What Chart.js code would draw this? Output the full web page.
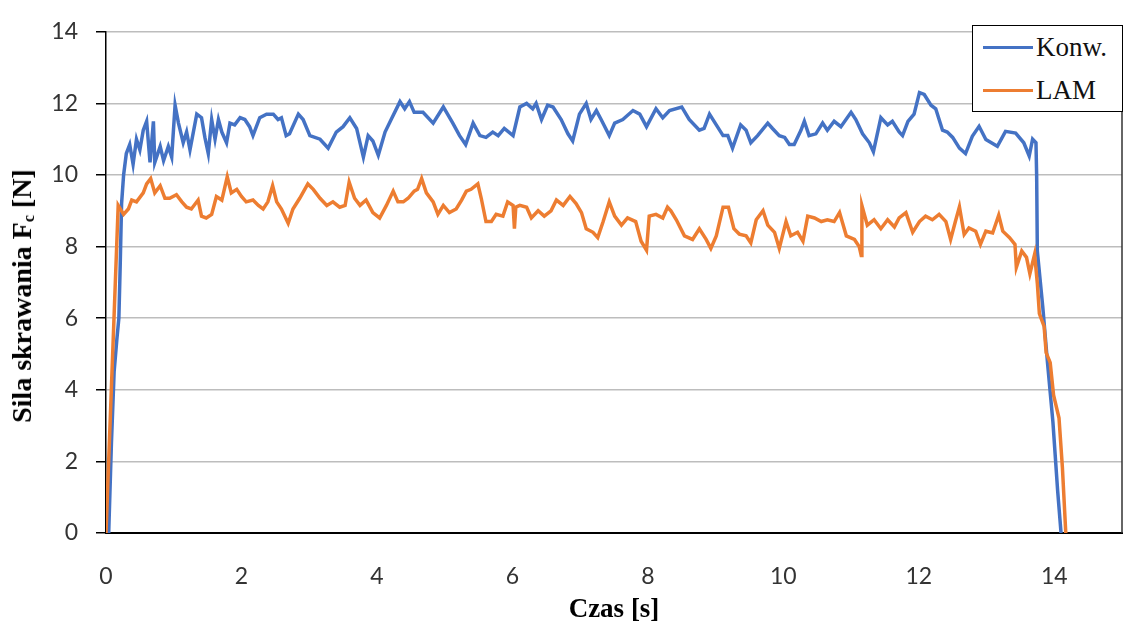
<!DOCTYPE html>
<html>
<head>
<meta charset="utf-8">
<script src="https://cdn.jsdelivr.net/npm/chart.js@4.4.1/dist/chart.umd.min.js"></script>
<style>
    body { margin: 0; background: #fff; }
    #wrap { position: relative; width: 1125px; height: 626px; }
    #ytitle {
        position: absolute; left: 22px; top: 296px;
        transform: translate(-50%, -50%) rotate(-90deg);
        white-space: nowrap;
        font: bold 28px "Liberation Serif", "Times New Roman", serif;
        color: #000;
    }
    #ytitle sub { font-size: 16px; vertical-align: -3px; }
    #legenda {
        position: absolute; left: 972px; top: 25px; width: 149px; height: 85px;
        border: 1.5px solid #000; background: #fff;
        font: 27px "Liberation Serif", "Times New Roman", serif; color: #111;
    }
    .item { position: absolute; left: 10px; display: flex; align-items: center; }
    .item span.linha { display: inline-block; width: 50px; height: 3px; margin-right: 3px; }
</style>
</head>
<body>
<div id="wrap">
    <canvas id="grafico" width="1125" height="626"></canvas>
    <div id="ytitle">Sila skrawania F<sub>c</sub> [N]</div>
    <div id="legenda">
        <div class="item" style="top:6px"><span class="linha" style="background:#4472C4"></span>Konw.</div>
        <div class="item" style="top:49px"><span class="linha" style="background:#ED7D31"></span>LAM</div>
    </div>
</div>
<script>
// Siła skrawania - Konw. vs LAM

const xTicks = [0, 2, 4, 6, 8, 10, 12, 14];
const yTicks = [0, 2, 4, 6, 8, 10, 12, 14];

// Konw. (niebieski)
const czasKonw = [
    0.04, 0.08, 0.12, 0.16, 0.19, 0.21, 0.23, 0.26, 0.30, 0.35,
    0.40, 0.45, 0.50, 0.55, 0.60, 0.65, 0.70, 0.72, 0.80, 0.85,
    0.92, 0.97, 1.02, 1.07, 1.14, 1.19, 1.24, 1.34, 1.41, 1.46,
    1.51, 1.56, 1.61, 1.66, 1.71, 1.78, 1.83, 1.90, 1.98, 2.05,
    2.12, 2.17, 2.27, 2.37, 2.47, 2.54, 2.59, 2.66, 2.71, 2.84,
    2.91, 3.01, 3.16, 3.28, 3.40, 3.50, 3.60, 3.70, 3.80, 3.87,
    3.94, 4.02, 4.12, 4.21, 4.34, 4.41, 4.48, 4.55, 4.68, 4.83,
    4.98, 5.12, 5.22, 5.31, 5.42, 5.52, 5.61, 5.71, 5.79, 5.88,
    6.01, 6.11, 6.21, 6.30, 6.35, 6.43, 6.52, 6.60, 6.72, 6.82,
    6.89, 6.99, 7.09, 7.16, 7.24, 7.31, 7.43, 7.51, 7.63, 7.78,
    7.88, 7.98, 8.12, 8.22, 8.32, 8.50, 8.61, 8.76, 8.83, 8.91,
    9.01, 9.11, 9.18, 9.25, 9.37, 9.45, 9.52, 9.62, 9.77, 9.84,
    9.94, 10.02, 10.09, 10.16, 10.26, 10.31, 10.38, 10.48, 10.58, 10.65,
    10.75, 10.85, 11.00, 11.07, 11.17, 11.27, 11.33, 11.44, 11.54, 11.61,
    11.71, 11.76, 11.84, 11.93, 12.01, 12.08, 12.18, 12.25, 12.35, 12.42,
    12.50, 12.60, 12.69, 12.79, 12.89, 12.99, 13.16, 13.28, 13.43, 13.55,
    13.63, 13.68, 13.73, 13.74, 13.75, 13.83, 13.90, 13.98, 14.05, 14.10
];
const silaKonw = [
    0, 2.5, 4.5, 5.4, 6.0, 7.5, 9.2, 10.0, 10.6, 10.85,
    10.3, 11.0, 10.7, 11.25, 11.5, 10.35, 11.5, 10.35, 10.8, 10.4,
    10.8, 10.5, 11.95, 11.45, 10.9, 11.2, 10.7, 11.7, 11.6, 11.05,
    10.6, 11.55, 11.0, 11.55, 11.2, 10.9, 11.45, 11.4, 11.6, 11.55,
    11.35, 11.1, 11.6, 11.7, 11.7, 11.55, 11.6, 11.1, 11.15, 11.7,
    11.55, 11.1, 11.0, 10.75, 11.2, 11.35, 11.6, 11.3, 10.5, 11.1,
    10.95, 10.55, 11.2, 11.55, 12.05, 11.85, 12.05, 11.75, 11.75, 11.45,
    11.9, 11.45, 11.1, 10.85, 11.45, 11.1, 11.05, 11.2, 11.1, 11.3,
    11.1, 11.9, 12.0, 11.85, 12.0, 11.55, 11.95, 11.9, 11.55, 11.15,
    10.95, 11.7, 12.0, 11.55, 11.8, 11.55, 11.1, 11.45, 11.55, 11.8,
    11.7, 11.35, 11.85, 11.6, 11.8, 11.9, 11.55, 11.25, 11.3, 11.7,
    11.4, 11.1, 11.1, 10.75, 11.4, 11.25, 10.9, 11.1, 11.45, 11.3,
    11.1, 11.05, 10.85, 10.85, 11.25, 11.5, 11.1, 11.15, 11.45, 11.25,
    11.5, 11.35, 11.75, 11.55, 11.15, 10.9, 10.65, 11.6, 11.4, 11.5,
    11.2, 11.1, 11.5, 11.7, 12.3, 12.25, 11.95, 11.85, 11.25, 11.2,
    11.05, 10.75, 10.6, 11.08, 11.36, 10.99, 10.8, 11.22, 11.17, 10.9,
    10.53, 11.0, 10.9, 9.98, 7.87, 6.32, 4.76, 3.1, 1.18, 0
];

// LAM (pomarańczowy)
const czasLam = [
    0, 0.18, 0.26, 0.33, 0.38, 0.45, 0.55, 0.60, 0.66, 0.72,
    0.80, 0.87, 0.94, 1.04, 1.12, 1.19, 1.26, 1.36, 1.41, 1.48,
    1.56, 1.63, 1.71, 1.79, 1.85, 1.93, 2.00, 2.07, 2.17, 2.25,
    2.32, 2.39, 2.46, 2.52, 2.59, 2.69, 2.76, 2.86, 2.98, 3.06,
    3.16, 3.26, 3.35, 3.45, 3.53, 3.59, 3.67, 3.75, 3.84, 3.94,
    4.04, 4.14, 4.24, 4.31, 4.39, 4.46, 4.55, 4.60, 4.66, 4.73,
    4.83, 4.90, 4.98, 5.07, 5.17, 5.25, 5.32, 5.39, 5.49, 5.54,
    5.61, 5.69, 5.76, 5.86, 5.93, 6.01, 6.03, 6.05, 6.11, 6.21,
    6.28, 6.38, 6.47, 6.57, 6.65, 6.75, 6.85, 6.94, 7.02, 7.09,
    7.19, 7.26, 7.34, 7.43, 7.51, 7.61, 7.70, 7.82, 7.90, 7.98,
    8.02, 8.12, 8.22, 8.29, 8.34, 8.42, 8.54, 8.66, 8.76, 8.86,
    8.93, 9.01, 9.11, 9.19, 9.27, 9.35, 9.45, 9.52, 9.60, 9.70,
    9.77, 9.87, 9.94, 10.04, 10.11, 10.21, 10.29, 10.36, 10.46, 10.56,
    10.65, 10.75, 10.83, 10.93, 11.05, 11.12, 11.15, 11.16, 11.24, 11.34,
    11.44, 11.54, 11.64, 11.71, 11.81, 11.91, 12.01, 12.10, 12.20, 12.30,
    12.40, 12.47, 12.54, 12.60, 12.67, 12.74, 12.84, 12.91, 12.99, 13.09,
    13.18, 13.24, 13.34, 13.42, 13.44, 13.52, 13.59, 13.64, 13.71, 13.75,
    13.78, 13.85, 13.88, 13.94, 13.99, 14.07, 14.12, 14.17
];
const silaLam = [
    0, 9.15, 8.9, 9.05, 9.3, 9.25, 9.5, 9.75, 9.9, 9.5,
    9.7, 9.35, 9.35, 9.45, 9.25, 9.1, 9.05, 9.3, 8.85, 8.8,
    8.9, 9.4, 9.3, 9.95, 9.5, 9.6, 9.4, 9.25, 9.3, 9.15,
    9.05, 9.25, 9.7, 9.25, 9.05, 8.65, 9.05, 9.35, 9.75, 9.6,
    9.35, 9.15, 9.25, 9.1, 9.15, 9.8, 9.35, 9.15, 9.3, 8.95,
    8.8, 9.15, 9.55, 9.25, 9.25, 9.35, 9.55, 9.6, 9.9, 9.5,
    9.25, 8.9, 9.15, 8.95, 9.05, 9.3, 9.55, 9.6, 9.75, 9.35,
    8.7, 8.7, 8.9, 8.85, 9.25, 9.15, 8.5, 9.1, 9.15, 9.1,
    8.8, 9.0, 8.85, 9.0, 9.3, 9.15, 9.4, 9.2, 8.95, 8.5,
    8.4, 8.25, 8.7, 9.25, 8.85, 8.6, 8.8, 8.7, 8.15, 7.9,
    8.85, 8.9, 8.8, 9.1, 9.0, 8.75, 8.3, 8.2, 8.5, 8.2,
    7.95, 8.3, 9.1, 9.1, 8.5, 8.35, 8.3, 8.1, 8.75, 9.0,
    8.6, 8.4, 7.95, 8.7, 8.3, 8.4, 8.15, 8.85, 8.8, 8.7,
    8.75, 8.7, 8.95, 8.3, 8.2, 8.0, 7.75, 9.15, 8.6, 8.75,
    8.5, 8.75, 8.55, 8.8, 8.95, 8.4, 8.7, 8.85, 8.75, 8.9,
    8.7, 8.2, 8.7, 9.11, 8.34, 8.52, 8.43, 8.06, 8.43, 8.38,
    8.88, 8.43, 8.25, 8.06, 7.42, 7.88, 7.7, 7.24, 7.79, 6.97,
    6.13, 5.77, 5.04, 4.76, 3.85, 3.21, 1.83, 0
];

const serieKonw = czasKonw.map((t, i) => ({ x: t, y: silaKonw[i] }));
const serieLam = czasLam.map((t, i) => ({ x: t, y: silaLam[i] }));

// borda direita da área do gráfico
const bordaDireita = {
    id: 'bordaDireita',
    afterDraw(chart) {
        const { ctx, chartArea } = chart;
        ctx.save();
        ctx.strokeStyle = '#333';
        ctx.lineWidth = 1.5;
        ctx.beginPath();
        ctx.moveTo(chartArea.right, chartArea.top);
        ctx.lineTo(chartArea.right, chartArea.bottom);
        ctx.stroke();
        ctx.restore();
    }
};

const ctx = document.getElementById('grafico').getContext('2d');
new Chart(ctx, {
    type: 'line',
    data: {
        datasets: [
            {
                label: 'Konw.',
                data: serieKonw,
                borderColor: '#4472C4',
                borderWidth: 3.5,
                pointRadius: 0,
                tension: 0,
                order: 1
            },
            {
                label: 'LAM',
                data: serieLam,
                borderColor: '#ED7D31',
                borderWidth: 3.5,
                pointRadius: 0,
                tension: 0,
                order: 0
            }
        ]
    },
    options: {
        responsive: false,
        animation: false,
        layout: { padding: { top: 24, right: 3, left: 0, bottom: 0 } },
        plugins: {
            legend: { display: false },
            tooltip: { enabled: false }
        },
        scales: {
            x: {
                type: 'linear',
                min: 0,
                max: 15,
                afterBuildTicks: axis => { axis.ticks = xTicks.map(v => ({ value: v })); },
                afterFit: axis => { axis.height = 93; },
                grid: { display: false, drawTicks: false },
                border: { color: '#000', width: 2 },
                ticks: {
                    padding: 30,
                    color: '#333',
                    font: { family: 'Lato', size: 23 }
                },
                title: {
                    display: true,
                    text: 'Czas [s]',
                    color: '#000',
                    padding: { top: 0, bottom: 0 },
                    font: { family: '"Liberation Serif"', size: 27, weight: 'bold' }
                }
            },
            y: {
                min: 0,
                max: 14,
                afterBuildTicks: axis => { axis.ticks = yTicks.map(v => ({ value: v })); },
                afterFit: axis => { axis.width = 106; },
                grid: {
                    color: '#bdbdbd',
                    lineWidth: 1.5,
                    tickColor: '#000',
                    tickLength: 10
                },
                border: { color: '#000', width: 1.5 },
                ticks: {
                    padding: 18,
                    color: '#333',
                    font: { family: 'Lato', size: 23 }
                }
            }
        }
    },
    plugins: [bordaDireita]
});
</script>
</body>
</html>
